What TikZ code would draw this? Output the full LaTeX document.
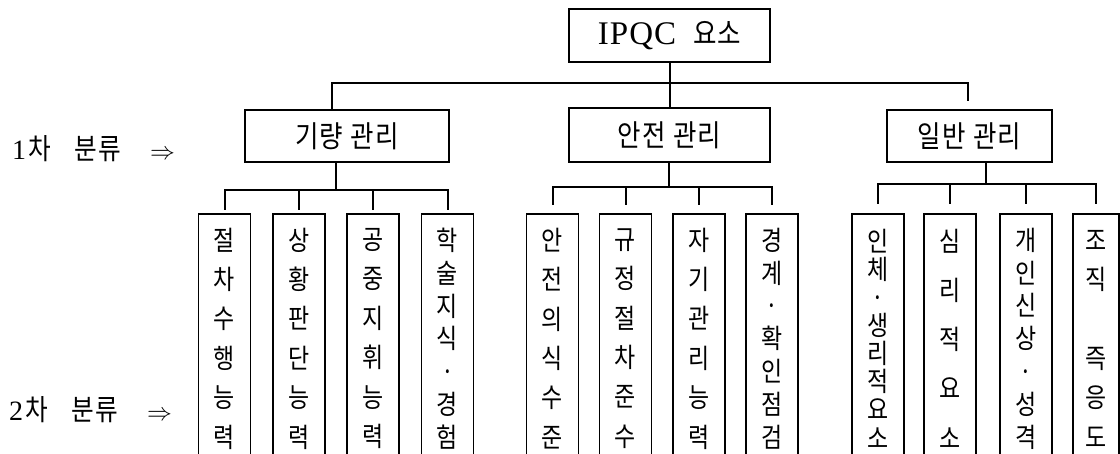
\documentclass[tikz,border=0pt]{standalone}
\usepackage{fontspec}
\setmainfont{Liberation Serif}
\newfontfamily\kr{Noto Sans CJK KR}[FakeStretch=0.85]
\begin{document}
\begin{tikzpicture}[x=1pt,y=-1pt,
  lone/.style={draw, line width=2.2pt, rectangle, inner sep=0pt},
  ltwo/.style={draw, line width=1.2pt, rectangle, inner sep=0pt, minimum width=52pt,
     minimum height=249pt, align=center, font={\kr\fontsize{27}{#1}\selectfont}},
  conn/.style={line width=2pt, line cap=rect},
  lab/.style={anchor=west, inner sep=0pt, font=\fontsize{28}{32}\selectfont},
  kt/.style={font=\kr\fontsize{30}{34}\selectfont}]
\useasboundingbox (0,0) rectangle (1120,453);
\clip (0,0) rectangle (1120,453);

% level 0 and level 1
\node[lone, minimum width=201pt, minimum height=53pt] (ipqc) at (669.5,35.5)
  {\fontsize{33}{36}\selectfont I\kern1pt P\kern1pt Q\kern1pt C\kern17pt{\kr\fontsize{30}{34}\selectfont 요\kern1pt 소}};
\node[lone, kt, minimum width=204pt, minimum height=52pt] (gi) at (347,136) {기\kern1pt 량\kern8pt 관\kern1pt 리};
\node[lone, kt, minimum width=201pt, minimum height=54pt] (an) at (669.5,135) {안\kern1pt 전\kern8pt 관\kern1pt 리};
\node[lone, kt, minimum width=165pt, minimum height=52pt] (il) at (969.5,136) {일\kern1pt 반\kern8pt 관\kern1pt 리};

% side labels
\node[lab] (l1) at (12,149) {1\kern2pt{\kr\fontsize{29}{32}\selectfont 차}\kern24pt{\kr\fontsize{29}{32}\selectfont 분\kern1pt 류}\kern29pt$\Rightarrow$};
\node[lab] (l2) at (9,410) {2\kern2pt{\kr\fontsize{29}{32}\selectfont 차}\kern24pt{\kr\fontsize{29}{32}\selectfont 분\kern1pt 류}\kern29pt$\Rightarrow$};

% level 2
\node[ltwo=39.4] (b1) at (224.5,338.5) {절\\차\\수\\행\\능\\력};
\node[ltwo=39.4] (b2) at (299,338.5) {상\\황\\판\\단\\능\\력};
\node[ltwo=39.4] (b3) at (373,338.5) {공\\중\\지\\휘\\능\\력};
\node[ltwo=32.8] (b4) at (447.5,338.5) {학\\술\\지\\식\\·\\경\\험};
\node[ltwo=39.4] (b5) at (552.5,338.5) {안\\전\\의\\식\\수\\준};
\node[ltwo=39.4] (b6) at (625.5,338.5) {규\\정\\절\\차\\준\\수};
\node[ltwo=39.4] (b7) at (699,338.5) {자\\기\\관\\리\\능\\력};
\node[ltwo=32.8] (b8) at (772,338.5) {경\\계\\·\\확\\인\\점\\검};
\node[ltwo=28.1] (b9) at (878,338.5) {인\\체\\·\\생\\리\\적\\요\\소};
\node[ltwo=49.25] (b10) at (950,338.5) {심\\리\\적\\요\\소};
\node[ltwo=32.8] (b11) at (1026,338.5) {개\\인\\신\\상\\·\\성\\격};
\node[ltwo=39.4, minimum width=46pt] (b12) at (1096,338.5) {조\\직\\\mbox{}\\즉\\응\\도};

% top connectors
\coordinate (tL) at (332,83);
\coordinate (tR) at (968,83);
\coordinate (tRe) at (968,100);
\draw[conn] (tL |- gi.north) -- (tL) -- (tR) -- (tRe);
\draw[conn] (ipqc.south) -- (an.north);

% group connectors
\coordinate (gA) at (336,190);
\draw[conn] (gA |- gi.south) -- (gA);
\draw[conn] (b1.north |- gA) -- (b4.north |- gA);
\foreach \b in {b1,b2,b3,b4} \draw[conn] (\b.north |- gA) -- ++(0,19);

\coordinate (aA) at (669,187);
\draw[conn] (aA |- an.south) -- (aA);
\draw[conn] (b5.north |- aA) -- (b8.north |- aA);
\foreach \b in {b5,b6,b7,b8} \draw[conn] (\b.north |- aA) -- ++(0,17);

\coordinate (iA) at (986,184);
\draw[conn] (iA |- il.south) -- (iA);
\draw[conn] (b9.north |- iA) -- (b12.north |- iA);
\foreach \b in {b9,b10,b11,b12} \draw[conn] (\b.north |- iA) -- ++(0,19);
\end{tikzpicture}
\end{document}
